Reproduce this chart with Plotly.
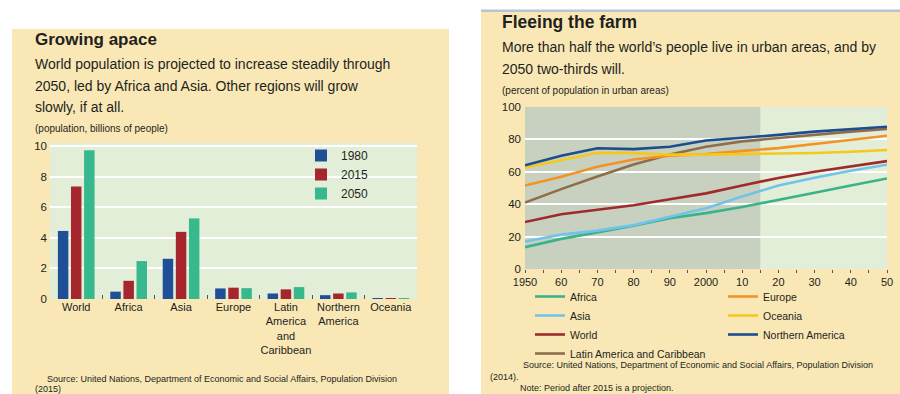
import plotly.graph_objects as go

# ---------------- data ----------------
regions = ["World", "Africa", "Asia", "Europe",
           "Latin<br>America<br>and<br>Caribbean", "Northern<br>America", "Oceania"]
pop_1980 = [4.45, 0.48, 2.63, 0.69, 0.36, 0.25, 0.023]
pop_2015 = [7.35, 1.19, 4.39, 0.74, 0.63, 0.36, 0.039]
pop_2050 = [9.73, 2.48, 5.27, 0.71, 0.78, 0.43, 0.057]

years = [1950, 1960, 1970, 1980, 1990, 2000, 2010, 2015, 2020, 2030, 2040, 2050]
urb_africa = [13.5, 18.6, 22.6, 26.7, 31.3, 34.5, 38.3, 40.4, 42.6, 47.1, 51.5, 55.9]
urb_asia = [17.0, 21.2, 23.7, 27.1, 32.3, 37.5, 44.8, 48.2, 51.5, 56.3, 60.6, 64.4]
urb_world = [29.0, 33.8, 36.6, 39.3, 43.0, 46.7, 51.6, 53.9, 56.2, 60.0, 63.2, 66.6]
urb_latam = [41.0, 49.3, 57.1, 64.5, 70.7, 75.5, 78.8, 79.8, 81.0, 83.0, 84.8, 86.4]
urb_europe = [51.5, 57.0, 63.1, 67.6, 69.9, 70.9, 72.9, 73.6, 74.6, 77.2, 79.7, 82.3]
urb_oceania = [62.6, 67.0, 71.8, 71.5, 70.6, 70.6, 70.8, 70.9, 71.1, 71.6, 72.4, 73.5]
urb_namerica = [64.0, 69.9, 74.5, 74.0, 75.5, 79.3, 81.0, 81.8, 82.8, 84.8, 86.5, 87.8]

year_ticks = [1950, 1960, 1970, 1980, 1990, 2000, 2010, 2020, 2030, 2040, 2050]
year_labels = ["1950", "60", "70", "80", "90", "2000", "10", "20", "30", "40", "50"]

# ---------------- style ----------------
W, H = 900, 394
FONT = "Liberation Sans, Arial, sans-serif"
BEIGE = "#f9e8b6"
PLOTBG = "#e3eed8"
DARKBG = "#c8d1c0"
TXT = "#231f20"


def px(x):
    return x / W


def py(y):
    return 1 - y / H


fig = go.Figure()

bar_cols = {"1980": "#1f4f97", "2015": "#a5262c", "2050": "#37b98d"}
for name, vals in (("1980", pop_1980), ("2015", pop_2015), ("2050", pop_2050)):
    fig.add_trace(go.Bar(x=regions, y=vals, name=name, marker_color=bar_cols[name],
                         marker_line_width=0, xaxis="x", yaxis="y", legend="legend"))

line_series = [
    ("Africa", urb_africa, "#3ab389", "legend2"),
    ("Asia", urb_asia, "#72c3ea", "legend2"),
    ("World", urb_world, "#9f2a2c", "legend2"),
    ("Latin America and Caribbean", urb_latam, "#8f6d4c", "legend2"),
    ("Europe", urb_europe, "#f39325", "legend3"),
    ("Oceania", urb_oceania, "#f7c81b", "legend3"),
    ("Northern America", urb_namerica, "#1c4d8c", "legend3"),
]
for name, vals, col, lg in line_series:
    fig.add_trace(go.Scatter(x=years, y=vals, name=name, mode="lines",
                             line=dict(color=col, width=2.6),
                             xaxis="x2", yaxis="y2", legend=lg))

shapes = [
    # panel backgrounds
    dict(type="rect", xref="paper", yref="paper", x0=px(12), x1=px(449), y0=py(394), y1=py(29),
         fillcolor=BEIGE, line_width=0, layer="below"),
    dict(type="rect", xref="paper", yref="paper", x0=px(481), x1=px(900), y0=py(394), y1=py(12),
         fillcolor=BEIGE, line_width=0, layer="below"),
    dict(type="rect", xref="paper", yref="paper", x0=px(481), x1=px(900), y0=py(12), y1=py(9.5),
         fillcolor="#b9c3d3", line_width=0, layer="below"),
    # plot backgrounds
    dict(type="rect", xref="x domain", yref="y domain", x0=0, x1=1, y0=0, y1=1,
         fillcolor=PLOTBG, line_width=0, layer="below"),
    dict(type="rect", xref="x2 domain", yref="y2 domain", x0=0, x1=1, y0=0, y1=1,
         fillcolor=PLOTBG, line_width=0, layer="below"),
    # history period (before 2015)
    dict(type="rect", xref="x2", yref="y2 domain", x0=1950, x1=2015, y0=0, y1=1,
         fillcolor=DARKBG, line_width=0, layer="below"),
]


def ann(x, y, text, size, bold=False, color=TXT):
    return dict(xref="paper", yref="paper", x=px(x), y=py(y), xanchor="left", yanchor="middle",
                text=text, showarrow=False, borderpad=0,
                font=dict(family=FONT, size=size, color=color,
                          weight="bold" if bold else "normal"))


annotations = [
    ann(34, 40, "Growing apace", 17, bold=True),
    ann(34, 64, "World population is projected to increase steadily through", 14),
    ann(34, 86, "2050, led by Africa and Asia. Other regions will grow", 14),
    ann(34, 107, "slowly, if at all.", 14),
    ann(34, 129, "(population, billions of people)", 10),
    ann(46, 379, "Source: United Nations, Department of Economic and Social Affairs, Population Division", 9),
    ann(34, 389, "(2015)", 9),
    ann(501, 22, "Fleeing the farm", 17.5, bold=True),
    ann(501, 47, "More than half the world\u2019s people live in urban areas, and by", 14),
    ann(501, 69, "2050 two-thirds will.", 14),
    ann(501, 91, "(percent of population in urban areas)", 10),
    ann(522, 365, "Source: United Nations, Department of Economic and Social Affairs, Population Division", 9),
    ann(489, 377, "(2014).", 9),
    ann(519, 388, "Note: Period after 2015 is a projection.", 9),
]

tickfont = dict(family=FONT, size=11, color=TXT)

fig.update_layout(
    width=W, height=H,
    margin=dict(l=0, r=0, t=0, b=0, autoexpand=False),
    paper_bgcolor="white",
    plot_bgcolor="rgba(0,0,0,0)",
    font=dict(family=FONT, color=TXT),
    barmode="group", bargap=0.25, bargroupgap=0.2,
    shapes=shapes, annotations=annotations,
    xaxis=dict(domain=[px(50), px(417)], anchor="y", showgrid=False, zeroline=False,
               showline=False, ticks="inside", tickson="boundaries", ticklen=4, tickwidth=1,
               tickcolor="#555555", tickfont=dict(family=FONT, size=11, color=TXT),
               tickangle=0, automargin=False),
    yaxis=dict(domain=[py(299), py(143)], anchor="x", range=[0, 10.2],
               tickvals=[0, 2, 4, 6, 8, 10], showgrid=True, gridcolor="white", gridwidth=2,
               zeroline=False, showline=False, ticks="", tickfont=dict(family=FONT, size=11.5, color=TXT),
               ticklabelstandoff=2, automargin=False),
    xaxis2=dict(domain=[px(525), px(887)], anchor="y2", range=[1950, 2050],
                tickvals=year_ticks, ticktext=year_labels, showgrid=False, zeroline=False,
                showline=False, ticks="outside", ticklen=3, tickcolor="#555555",
                minor=dict(dtick=5, tick0=1950, ticks="outside", ticklen=3, tickcolor="#555555"),
                tickfont=tickfont, automargin=False),
    yaxis2=dict(domain=[py(269), py(107)], anchor="x2", range=[0, 100],
                tickvals=[0, 20, 40, 60, 80, 100], showgrid=True, gridcolor="white", gridwidth=2,
                zeroline=False, showline=False, ticks="", tickfont=dict(family=FONT, size=11.5, color=TXT),
                ticklabelstandoff=3, automargin=False),
    legend=dict(x=px(301), y=py(141), xanchor="left", yanchor="top", bgcolor="rgba(0,0,0,0)",
                font=dict(family=FONT, size=12, color=TXT), itemwidth=30, tracegroupgap=0),
    legend2=dict(x=px(530), y=py(282), xanchor="left", yanchor="top", bgcolor="rgba(0,0,0,0)",
                 font=dict(family=FONT, size=10.5, color=TXT), itemwidth=30),
    legend3=dict(x=px(723), y=py(282), xanchor="left", yanchor="top", bgcolor="rgba(0,0,0,0)",
                 font=dict(family=FONT, size=10.5, color=TXT), itemwidth=30),
)

fig.write_html("out.html")
